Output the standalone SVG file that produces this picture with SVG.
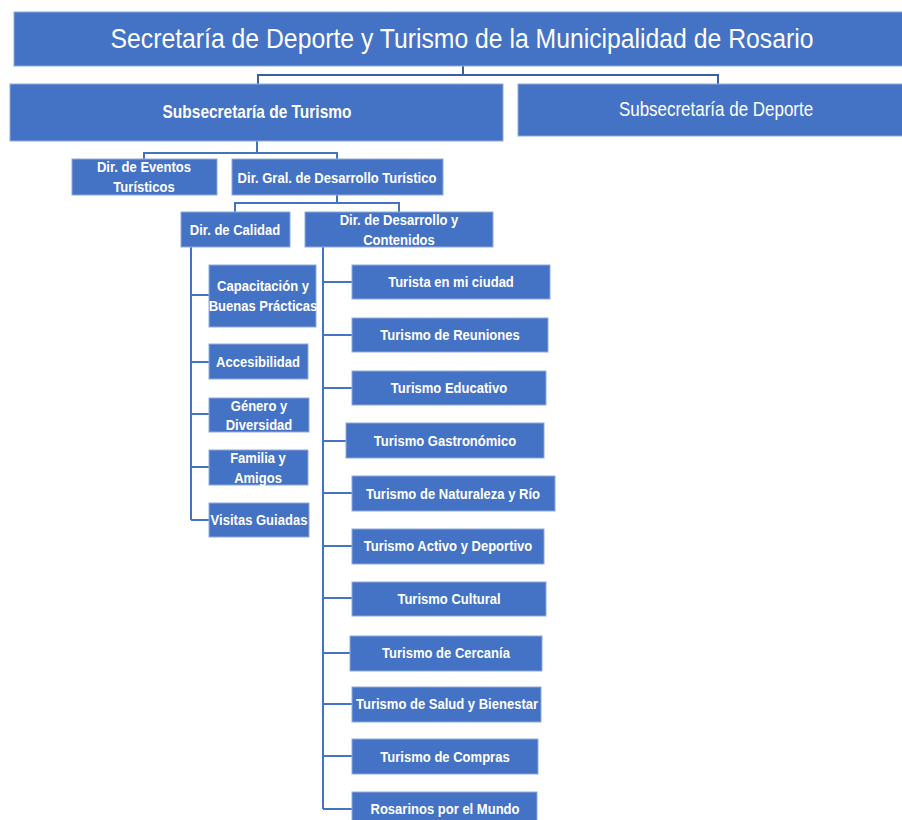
<svg xmlns="http://www.w3.org/2000/svg" width="902" height="820" viewBox="0 0 902 820">
<style>
.box{fill:#4472C4;stroke:#8FAADC;stroke-width:1}
.t{font-family:"Liberation Sans",Arial,sans-serif;font-size:14.8px;font-weight:bold;fill:#ffffff;text-anchor:middle}
.big{font-family:"Liberation Sans",Arial,sans-serif;fill:#ffffff;text-anchor:middle}
.c{fill:none;stroke:#4472C4;stroke-width:2}
.c0{fill:none;stroke:#3A5FA8;stroke-width:2}
</style>
<rect width="902" height="820" fill="#ffffff"/>
<g id="connectors">
<path class="c0" d="M463 66V75M258 84V75H718V84"/>
<path class="c" d="M257 141V153M144 160V153H337V160"/>
<path class="c" d="M337 195V203M235 212V203H399V212"/>
<path class="c" d="M191 247V520M191 295H209M191 362H209M191 414H209M191 467H209M191 520H209"/>
<path class="c" d="M323 247V809M323 282H352M323 335H352M323 388H352M323 441H346M323 493H352M323 546H352M323 598H352M323 653H350M323 704H352M323 756H352M323 809H352"/>
</g>
<g id="n-secretaria"><rect class="box" x="14" y="12" width="889" height="54"/><text class="big" transform="translate(462 48) scale(0.9 1)" font-size="27.5">Secretaría de Deporte y Turismo de la Municipalidad de Rosario</text></g>
<g id="n-sub-turismo"><rect class="box" x="10" y="84" width="493" height="57"/><text class="big" transform="translate(257 118) scale(0.88 1)" font-size="17.6" font-weight="bold">Subsecretaría de Turismo</text></g>
<g id="n-sub-deporte"><rect class="box" x="518" y="84" width="385" height="52"/><text class="big" transform="translate(716 116) scale(0.88 1)" font-size="19.3">Subsecretaría de Deporte</text></g>
<g id="n-eventos"><rect class="box" x="72" y="159" width="145" height="36"/><text class="t" transform="translate(144 172) scale(0.88 1)">Dir. de Eventos</text><text class="t" transform="translate(144 192) scale(0.88 1)">Turísticos</text></g>
<g id="n-gral"><rect class="box" x="232" y="159" width="211" height="36"/><text class="t" transform="translate(337 183) scale(0.88 1)">Dir. Gral. de Desarrollo Turístico</text></g>
<g id="n-calidad"><rect class="box" x="181" y="212" width="109" height="35"/><text class="t" transform="translate(235 235) scale(0.88 1)">Dir. de Calidad</text></g>
<g id="n-desarrollo"><rect class="box" x="305" y="212" width="188" height="35"/><text class="t" transform="translate(399 225) scale(0.88 1)">Dir. de Desarrollo y</text><text class="t" transform="translate(399 245) scale(0.88 1)">Contenidos</text></g>
<g id="n-capacitacion"><rect class="box" x="209" y="265" width="107" height="62"/><text class="t" transform="translate(263 291) scale(0.88 1)">Capacitación y</text><text class="t" transform="translate(263 311) scale(0.88 1)">Buenas Prácticas</text></g>
<g id="n-accesibilidad"><rect class="box" x="209" y="344" width="99" height="35"/><text class="t" transform="translate(258 367) scale(0.88 1)">Accesibilidad</text></g>
<g id="n-genero"><rect class="box" x="209" y="398" width="100" height="34"/><text class="t" transform="translate(259 411) scale(0.88 1)">Género y</text><text class="t" transform="translate(259 430) scale(0.88 1)">Diversidad</text></g>
<g id="n-familia"><rect class="box" x="209" y="450" width="99" height="35"/><text class="t" transform="translate(258 463) scale(0.88 1)">Familia y</text><text class="t" transform="translate(258 483) scale(0.88 1)">Amigos</text></g>
<g id="n-visitas"><rect class="box" x="209" y="503" width="100" height="34"/><text class="t" transform="translate(259 525) scale(0.88 1)">Visitas Guiadas</text></g>
<g id="n-turista"><rect class="box" x="352" y="265" width="198" height="34"/><text class="t" transform="translate(451 287) scale(0.88 1)">Turista en mi ciudad</text></g>
<g id="n-reuniones"><rect class="box" x="352" y="318" width="196" height="34"/><text class="t" transform="translate(450 340) scale(0.88 1)">Turismo de Reuniones</text></g>
<g id="n-educativo"><rect class="box" x="352" y="371" width="194" height="34"/><text class="t" transform="translate(449 393) scale(0.88 1)">Turismo Educativo</text></g>
<g id="n-gastronomico"><rect class="box" x="346" y="423" width="198" height="35"/><text class="t" transform="translate(445 446) scale(0.88 1)">Turismo Gastronómico</text></g>
<g id="n-naturaleza"><rect class="box" x="352" y="476" width="203" height="35"/><text class="t" transform="translate(453 499) scale(0.88 1)">Turismo de Naturaleza y Río</text></g>
<g id="n-activo"><rect class="box" x="352" y="529" width="192" height="35"/><text class="t" transform="translate(448 551) scale(0.88 1)">Turismo Activo y Deportivo</text></g>
<g id="n-cultural"><rect class="box" x="352" y="582" width="194" height="34"/><text class="t" transform="translate(449 604) scale(0.88 1)">Turismo Cultural</text></g>
<g id="n-cercania"><rect class="box" x="350" y="636" width="192" height="35"/><text class="t" transform="translate(446 658) scale(0.88 1)">Turismo de Cercanía</text></g>
<g id="n-salud"><rect class="box" x="352" y="687" width="189" height="35"/><text class="t" transform="translate(447 709) scale(0.88 1)">Turismo de Salud y Bienestar</text></g>
<g id="n-compras"><rect class="box" x="352" y="739" width="186" height="35"/><text class="t" transform="translate(445 762) scale(0.88 1)">Turismo de Compras</text></g>
<g id="n-rosarinos"><rect class="box" x="352" y="792" width="185" height="35"/><text class="t" transform="translate(445 814) scale(0.88 1)">Rosarinos por el Mundo</text></g>
</svg>
